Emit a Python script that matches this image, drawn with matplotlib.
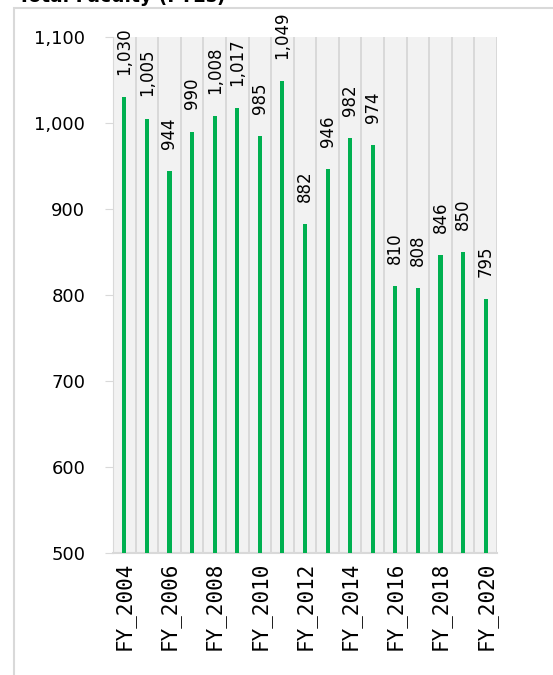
import matplotlib.pyplot as plt
from matplotlib.patches import Rectangle
from matplotlib.ticker import FuncFormatter

# faculty FTEs by fiscal year
years = ["FY_2004", "FY_2005", "FY_2006", "FY_2007", "FY_2008", "FY_2009",
         "FY_2010", "FY_2011", "FY_2012", "FY_2013", "FY_2014", "FY_2015",
         "FY_2016", "FY_2017", "FY_2018", "FY_2019", "FY_2020"]
ftes = [1030, 1005, 944, 990, 1008, 1017, 985, 1049, 882, 946, 982, 974,
        810, 808, 846, 850, 795]
yticks = [500, 600, 700, 800, 900, 1000, 1100]

fig = plt.figure(figsize=(5.53, 6.75), dpi=100)
ax = fig.add_axes([113/553, 1 - 553/675, 384/553, 516/675])

# outer chart border (only left/top edges show)
fig.patches.append(Rectangle((14/553, -0.1), 1.2, 1 - 8/675 + 0.1,
                             transform=fig.transFigure, fill=False,
                             edgecolor="#D9D9D9", linewidth=1.5))
# title sits mostly above the crop
fig.text(18/553, 1 - 1.5/675, "Total Faculty (FTEs)", fontsize=13.5,
         fontweight="bold", va="baseline", ha="left")

ax.set_facecolor("#F2F2F2")
x = list(range(len(years)))
ax.bar(x, ftes, width=0.18, color="#00B050", zorder=3)

# vertical separators between categories
for k in range(len(years) + 1):
    ax.axvline(k - 0.5, color="#D9D9D9", linewidth=1.4, zorder=1)

for xi, v in zip(x, ftes):
    ax.annotate(f"{v:,}", (xi, v), xytext=(0, 16), textcoords="offset points",
                rotation=90, ha="center", va="bottom", fontsize=12,
                annotation_clip=False)

ax.set_xlim(-0.5, len(years) - 0.5)
ax.set_ylim(500, 1100)
ax.set_yticks(yticks)
ax.yaxis.set_major_formatter(FuncFormatter(lambda v, p: f"{int(v):,}"))
ax.set_xticks(x[::2])
ax.set_xticklabels(years[::2], rotation=90, fontsize=15,
                   family="DejaVu Sans Mono")
ax.tick_params(axis="x", length=0, pad=6)
ax.tick_params(axis="y", length=6, color="#D9D9D9", labelsize=13, pad=14)

for s in ["top", "right"]:
    ax.spines[s].set_visible(False)
ax.spines["left"].set_color("#D9D9D9")
ax.spines["bottom"].set_color("#D9D9D9")
ax.spines["bottom"].set_linewidth(1.5)

fig.savefig("out.png", dpi=100)
